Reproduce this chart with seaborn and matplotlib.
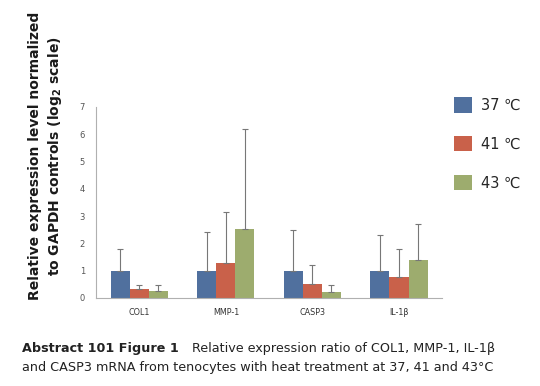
import pandas as pd
import matplotlib
matplotlib.use("Agg")
import matplotlib.pyplot as plt
import seaborn as sns

# values
genes = ["COL1", "MMP-1", "CASP3", "IL-1β"]
temps = ["37 ℃", "41 ℃", "43 ℃"]
mean_37 = [1.0, 1.0, 1.0, 1.0]
mean_41 = [0.34, 1.30, 0.53, 0.78]
mean_43 = [0.24, 2.53, 0.21, 1.40]
upper_37 = [1.80, 2.40, 2.50, 2.30]
upper_41 = [0.46, 3.15, 1.20, 1.80]
upper_43 = [0.48, 6.20, 0.46, 2.70]
colors = ["#50709E", "#C9614A", "#9DAC6E"]

sns.set_style("white")
plt.rcParams["font.family"] = ["DejaVu Sans"]

df = pd.DataFrame({
    "gene": genes * 3,
    "temp": [t for t in temps for _ in genes],
    "value": mean_37 + mean_41 + mean_43,
})
uppers = [upper_37, upper_41, upper_43]

fig = plt.figure(figsize=(5.4, 3.86), dpi=100)
ax = fig.add_axes([0.178, 0.228, 0.641, 0.495])

sns.barplot(data=df, x="gene", y="value", hue="temp", order=genes,
            hue_order=temps, palette=colors, width=0.66, errorbar=None,
            saturation=1, linewidth=0, ax=ax, legend=True)

# one-sided error bars, placed on the bars seaborn drew
for cont, up in zip(ax.containers, uppers):
    for bar, u in zip(cont, up):
        x = bar.get_x() + bar.get_width() / 2
        h = bar.get_height()
        ax.errorbar(x, h, yerr=[[0], [u - h]], fmt="none", ecolor="#777777",
                    elinewidth=0.8, capsize=2.2, capthick=0.8)

ax.set_ylim(0, 7)
ax.set_xlim(-0.5, 3.5)
ax.set_yticks(range(8))
ax.set_xlabel("")
ax.set_ylabel("")
for side in ["top", "right"]:
    ax.spines[side].set_visible(False)
for side in ["left", "bottom"]:
    ax.spines[side].set_color("#B0B0B0")
    ax.spines[side].set_linewidth(0.8)
ax.set_xticks([-0.5, 0.5, 1.5, 2.5, 3.5], minor=True)
ax.tick_params(axis="x", which="major", length=0, labelsize=5.8,
               labelcolor="#333333", pad=7)
ax.tick_params(axis="x", which="minor", length=3, color="#B0B0B0",
               width=0.8, direction="out")
ax.tick_params(axis="y", length=3, color="#B0B0B0", width=0.8,
               labelsize=6, labelcolor="#555555", direction="out", pad=5)

leg = ax.legend(loc="upper left", bbox_to_anchor=(0.995, 1.12), frameon=False,
                fontsize=10.5, handlelength=1.25, handleheight=1.25,
                labelspacing=1.6, handletextpad=0.65)

fig.text(0.085, 0.595, "Relative expression level normalized\n"
         r"to GAPDH controls (log$_\mathbf{2}$ scale)",
         rotation=90, ha="center", va="center", fontsize=10,
         fontweight="bold", color="#1a1a1a", linespacing=1.3)

# caption: bold lead-in followed by plain text
fig.canvas.draw()
r = fig.canvas.get_renderer()
t1 = fig.text(0.04, 0.088, "Abstract 101 Figure 1", fontsize=9.2,
              fontweight="bold", color="#222222")
bb = t1.get_window_extent(renderer=r)
x2 = (bb.x1 + 14) / fig.bbox.width
fig.text(x2, 0.088, "Relative expression ratio of COL1, MMP-1, IL-1β",
         fontsize=9.2, color="#222222")
fig.text(0.04, 0.038, "and CASP3 mRNA from tenocytes with heat treatment at 37, 41 and 43°C",
         fontsize=9.2, color="#222222")

fig.savefig("out.png", dpi=100)
